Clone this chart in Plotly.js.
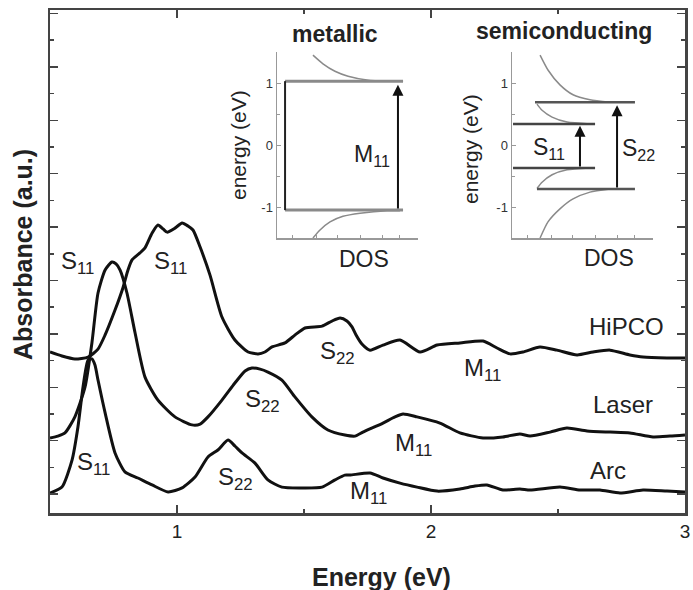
<!DOCTYPE html>
<html>
<head>
<meta charset="utf-8">
<script src="https://cdn.plot.ly/plotly-3.0.1.min.js"></script>
<style>html,body{margin:0;padding:0;background:#fff;}#chart{width:693px;height:590px;}</style>
</head>
<body>
<div id="chart"></div>
<script>
// ---- Main absorbance spectra (energy in eV, absorbance in arbitrary units, offset per sample) ----
const hipcoX = [0.500,0.547,0.598,0.650,0.689,0.717,0.756,0.787,0.807,0.823,0.854,0.874,0.902,0.925,0.945,0.961,0.992,1.020,1.043,1.063,1.091,1.130,1.177,1.228,1.280,1.319,1.346,1.374,1.425,1.465,1.504,1.571,1.610,1.642,1.669,1.689,1.705,1.728,1.760,1.811,1.878,1.957,2.024,2.114,2.205,2.260,2.311,2.362,2.429,2.496,2.575,2.638,2.705,2.783,2.835,2.929,3.000];
const hipcoY = [6.03,5.88,5.77,5.84,6.14,6.67,7.60,8.43,9.10,9.48,9.74,9.93,10.49,10.79,10.64,10.52,10.67,10.86,10.75,10.60,9.96,8.91,7.34,6.48,6.03,5.96,6.03,6.22,6.37,6.67,6.93,7.00,7.19,7.30,7.19,6.97,6.67,6.33,6.10,6.29,6.48,6.03,6.29,6.37,6.44,6.18,5.96,6.03,6.22,6.10,5.92,6.03,6.10,5.92,5.84,5.81,5.81];
const laserX = [0.500,0.531,0.559,0.598,0.638,0.665,0.689,0.717,0.744,0.760,0.776,0.803,0.835,0.874,0.925,0.992,1.059,1.091,1.122,1.177,1.228,1.268,1.295,1.327,1.358,1.413,1.465,1.531,1.594,1.661,1.701,1.732,1.811,1.858,1.890,1.945,2.035,2.114,2.205,2.283,2.350,2.390,2.469,2.535,2.614,2.705,2.783,2.874,2.941,3.000];
const laserY = [2.81,2.88,3.00,3.60,4.72,6.37,8.24,9.10,9.40,9.33,9.10,8.24,6.74,5.09,4.23,3.60,3.30,3.33,3.60,4.23,4.87,5.32,5.43,5.39,5.28,4.98,4.34,3.60,3.11,2.92,2.88,3.03,3.37,3.60,3.71,3.60,3.37,3.00,2.81,2.85,2.96,2.88,3.03,3.18,3.07,3.03,3.00,2.85,2.88,2.92];
const arcX = [0.500,0.547,0.587,0.610,0.630,0.650,0.665,0.677,0.689,0.717,0.756,0.795,0.846,0.902,0.965,1.020,1.071,1.122,1.161,1.201,1.228,1.256,1.307,1.358,1.413,1.492,1.571,1.622,1.661,1.681,1.760,1.811,1.878,1.945,2.024,2.114,2.173,2.220,2.283,2.350,2.390,2.508,2.587,2.665,2.744,2.835,2.929,3.000];
const arcY = [0.75,0.97,1.99,3.22,4.72,5.73,5.77,5.54,4.98,3.75,2.25,1.54,1.31,1.05,0.79,0.94,1.35,2.10,2.36,2.73,2.51,2.25,1.87,1.24,0.97,0.94,0.97,1.24,1.42,1.42,1.50,1.31,1.12,0.97,0.82,0.90,1.01,1.05,0.86,0.90,0.86,0.97,0.86,0.86,0.75,0.86,0.82,0.79];

const xTickVals = [1, 2, 3];
const xTickText = ['1', '2', '3'];
const xMinorTicks = [1.5, 2.5];

// peak labels: [text, energy, absorbance]
const peakLabels = [
  ['S<sub>11</sub>', 0.610, 9.40],
  ['S<sub>11</sub>', 0.975, 9.40],
  ['S<sub>11</sub>', 0.672, 1.87],
  ['S<sub>22</sub>', 1.632, 6.03],
  ['S<sub>22</sub>', 1.337, 4.23],
  ['S<sub>22</sub>', 1.230, 1.31],
  ['M<sub>11</sub>', 2.203, 5.36],
  ['M<sub>11</sub>', 1.931, 2.55],
  ['M<sub>11</sub>', 1.754, 0.75]
];
const sampleLabels = [
  ['HiPCO', 2.768, 7.00],
  ['Laser', 2.756, 4.08],
  ['Arc', 2.697, 1.61]
];

// ---- Inset: metallic DOS (x = DOS, arbitrary 0..1; y = energy eV) ----
const metalTopDOS = [0.255,0.326,0.411,0.504,0.638,0.780,0.894];
const metalTopE   = [1.45,1.31,1.19,1.11,1.05,1.03,1.03];
const metalBotDOS = [0.255,0.305,0.376,0.468,0.589,0.780,0.872];
const metalBotE   = [-1.50,-1.37,-1.24,-1.15,-1.10,-1.06,-1.06];
const metalLevels = [1.03, -1.05];
const metalLevelDOS = [0.057, 0.894];
const metalM11 = {dos: 0.858, from: -1.05, to: 0.97};

// ---- Inset: semiconducting DOS ----
const semiTopDOS = [0.199,0.255,0.340,0.433,0.553,0.695];
const semiTopE   = [1.45,1.21,0.97,0.81,0.73,0.69];
const semiUpDOS  = [0.177,0.213,0.284,0.390,0.553];
const semiUpE    = [0.66,0.56,0.45,0.37,0.34];
const semiLowDOS = [0.177,0.213,0.284,0.390,0.553];
const semiLowE   = [-0.70,-0.60,-0.48,-0.40,-0.37];
const semiBotDOS = [0.199,0.255,0.340,0.433,0.553,0.695];
const semiBotE   = [-1.50,-1.24,-1.03,-0.87,-0.76,-0.71];
const semiS22Levels = [0.69, -0.71];
const semiS22LevelDOS = [[0.163, 0.872], [0.177, 0.872]];
const semiS11Levels = [0.34, -0.37];
const semiS11LevelDOS = [0.007, 0.589];
const semiS11 = {dos: 0.482, from: -0.37, to: 0.31};
const semiS22 = {dos: 0.745, from: -0.71, to: 0.64};

const insetETicks = [-1, 0, 1];
const insetETickText = ['-1', '0', '1'];
const insetEMinor = [-1.5, -0.5, 0.5, 1.5];
const insetDOSTicks = [0.11, 0.28, 0.43, 0.59, 0.75, 0.87];

const FONT = 'Liberation Sans, Arial, Helvetica, sans-serif';
const traces = [];
function line(x, y, xa, ya, color, width, shape) {
  traces.push({x: x, y: y, xaxis: xa, yaxis: ya, type: 'scatter', mode: 'lines',
    line: {color: color, width: width, shape: shape || 'linear', smoothing: 0.6},
    hoverinfo: 'skip', showlegend: false});
}
line(hipcoX, hipcoY, 'x', 'y', '#111', 3, 'spline');
line(laserX, laserY, 'x', 'y', '#111', 3, 'spline');
line(arcX, arcY, 'x', 'y', '#111', 3, 'spline');

// metallic inset
const GREY = '#8a8a8a';
line(metalTopDOS, metalTopE, 'x2', 'y2', GREY, 1.5, 'spline');
line(metalBotDOS, metalBotE, 'x2', 'y2', GREY, 1.5, 'spline');
metalLevels.forEach(e => line(metalLevelDOS, [e, e], 'x2', 'y2', GREY, 3));
line([metalLevelDOS[0], metalLevelDOS[0]], metalLevels, 'x2', 'y2', '#222', 2);

// semiconducting inset
line(semiTopDOS, semiTopE, 'x3', 'y3', GREY, 1.5, 'spline');
line(semiUpDOS, semiUpE, 'x3', 'y3', GREY, 1.5, 'spline');
line(semiLowDOS, semiLowE, 'x3', 'y3', GREY, 1.5, 'spline');
line(semiBotDOS, semiBotE, 'x3', 'y3', GREY, 1.5, 'spline');
semiS22Levels.forEach((e, i) => line(semiS22LevelDOS[i], [e, e], 'x3', 'y3', '#555', 2.5));
semiS11Levels.forEach(e => line(semiS11LevelDOS, [e, e], 'x3', 'y3', '#444', 2.5));

const annotations = [];
peakLabels.forEach(p => annotations.push({text: p[0], x: p[1], y: p[2], xref: 'x', yref: 'y',
  xanchor: 'center', yanchor: 'middle', showarrow: false, font: {family: FONT, size: 24, color: '#222'}}));
sampleLabels.forEach(p => annotations.push({text: p[0], x: p[1], y: p[2], xref: 'x', yref: 'y',
  xanchor: 'center', yanchor: 'middle', showarrow: false, font: {family: FONT, size: 24, color: '#222'}}));

function arrow(a, xa, ya) {
  annotations.push({x: a.dos, y: a.to, ax: a.dos, ay: a.from, xref: xa, yref: ya, axref: xa, ayref: ya,
    text: '', showarrow: true, arrowhead: 2, arrowsize: 1.1, arrowwidth: 2, arrowcolor: '#111', standoff: 0, startstandoff: 0});
}
arrow(metalM11, 'x2', 'y2');
arrow(semiS11, 'x3', 'y3');
arrow(semiS22, 'x3', 'y3');

function ptxt(text, x, y, size, bold, angle) {
  annotations.push({text: bold ? '<b>' + text + '</b>' : text, x: x, y: y, xref: 'paper', yref: 'paper',
    xanchor: 'center', yanchor: 'middle',
    showarrow: false, textangle: angle || 0, font: {family: FONT, size: size, color: '#222'}});
}
ptxt('metallic', 0.4488, 0.9523, 23, true);
ptxt('semiconducting', 0.8094, 0.9583, 23, true);
ptxt('energy (eV)', 0.2961, 0.7316, 21, false, -90);
ptxt('energy (eV)', 0.6630, 0.7237, 21, false, -90);
ptxt('DOS', 0.4945, 0.5050, 23, false);
ptxt('DOS', 0.8803, 0.5070, 23, false);
ptxt('M<sub>11</sub>', 0.5071, 0.7117, 23, false);
ptxt('S<sub>11</sub>', 0.7858, 0.7256, 23, false);
ptxt('S<sub>22</sub>', 0.9260, 0.7217, 23, false);
ptxt('Absorbance (a.u.)', -0.0425, 0.5129, 25, true, -90);
ptxt('Energy (eV)', 0.5228, -0.1272, 25, true);

function insetX(domain, anchor) {
  return {domain: domain, anchor: anchor, range: [0, 1], showline: true, linecolor: '#999', linewidth: 1.5,
    ticks: 'inside', ticklen: 3, tickcolor: '#999', tickmode: 'array', tickvals: insetDOSTicks,
    showticklabels: false, showgrid: false, zeroline: false, fixedrange: true};
}
function insetY(domain, anchor) {
  return {domain: domain, anchor: anchor, range: [-1.5, 1.5], showline: true, linecolor: '#999', linewidth: 1.5,
    ticks: 'inside', ticklen: 4, tickcolor: '#999', tickmode: 'array', tickvals: insetETicks, ticktext: insetETickText,
    minor: {tickmode: 'array', tickvals: insetEMinor, ticks: 'inside', ticklen: 3, tickcolor: '#999'},
    tickfont: {family: FONT, size: 13, color: '#333'}, showgrid: false, zeroline: false, fixedrange: true};
}

const layout = {
  width: 693, height: 590,
  margin: {l: 50, r: 8, t: 10, b: 77},
  paper_bgcolor: '#fff', plot_bgcolor: '#fff',
  showlegend: false,
  font: {family: FONT, color: '#222'},
  xaxis: {domain: [0, 1], range: [0.5, 3], showline: true, linecolor: '#444', linewidth: 2.5, mirror: 'ticks',
    ticks: 'inside', ticklen: 8, tickwidth: 1.5, tickcolor: '#444', tickmode: 'array', tickvals: xTickVals, ticktext: xTickText,
    minor: {tickmode: 'array', tickvals: xMinorTicks, ticks: 'inside', ticklen: 4, tickwidth: 1.5, tickcolor: '#444'},
    tickfont: {family: FONT, size: 19, color: '#222'}, showgrid: false, zeroline: false, fixedrange: true},
  yaxis: {domain: [0, 1], range: [0, 18.84], showline: true, linecolor: '#444', linewidth: 2.5, mirror: 'ticks',
    ticks: 'inside', ticklen: 8, tickwidth: 1.5, tickcolor: '#444', tickmode: 'linear', tick0: 0.71, dtick: 2,
    minor: {ticks: 'inside', ticklen: 4, tickwidth: 1.5, tickcolor: '#444', tick0: 0.71, dtick: 1},
    showticklabels: false, showgrid: false, zeroline: false, fixedrange: true},
  xaxis2: insetX([0.3575, 0.5795], 'y2'),
  yaxis2: insetY([0.5467, 0.9165], 'x2'),
  xaxis3: insetX([0.7276, 0.9496], 'y3'),
  yaxis3: insetY([0.5467, 0.9165], 'x3'),
  annotations: annotations
};

Plotly.newPlot('chart', traces, layout, {staticPlot: true, displayModeBar: false});
</script>
</body>
</html>
